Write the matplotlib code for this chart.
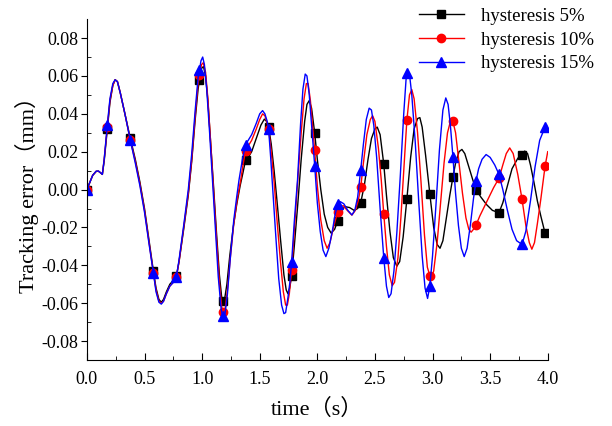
import numpy as np
import matplotlib
matplotlib.use("Agg")
import matplotlib.pyplot as plt

plt.rcParams['font.family'] = ['Liberation Serif', 'Noto Sans CJK SC']

# --- curve samples (time in s, error in mm) ---
t_5 = [0, 0.02, 0.05, 0.08, 0.10, 0.12, 0.134, 0.15, 0.177, 0.20, 0.225, 0.245,
       0.265, 0.29, 0.33, 0.377, 0.42, 0.46, 0.50, 0.54, 0.577, 0.60, 0.625, 0.646,
       0.665, 0.69, 0.72, 0.75, 0.777, 0.80, 0.84, 0.88, 0.91, 0.94, 0.965, 0.977,
       0.995, 1.012, 1.03, 1.05, 1.075, 1.10, 1.125, 1.15, 1.17, 1.182, 1.195, 1.215,
       1.24, 1.27, 1.30, 1.33, 1.355, 1.377, 1.40, 1.43, 1.47, 1.51, 1.54, 1.56,
       1.577, 1.60, 1.625, 1.65, 1.68, 1.71, 1.73, 1.745, 1.76, 1.777, 1.80, 1.83,
       1.86, 1.89, 1.91, 1.93, 1.95, 1.977, 2.00, 2.03, 2.06, 2.09, 2.12, 2.15,
       2.177, 2.21, 2.24, 2.28, 2.32, 2.35, 2.377, 2.41, 2.44, 2.47, 2.50, 2.52,
       2.545, 2.577, 2.60, 2.63, 2.66, 2.69, 2.715, 2.745, 2.777, 2.81, 2.84, 2.87,
       2.89, 2.91, 2.94, 2.977, 3.01, 3.04, 3.065, 3.09, 3.12, 3.15, 3.177, 3.20,
       3.23, 3.255, 3.28, 3.32, 3.35, 3.377, 3.42, 3.47, 3.52, 3.577, 3.61, 3.65,
       3.69, 3.74, 3.777, 3.80, 3.825, 3.85, 3.88, 3.91, 3.94, 3.977]
y_5 = [0, 0.003, 0.0075, 0.0096, 0.0097, 0.0088, 0.008, 0.015, 0.032, 0.046, 0.055, 0.058,
       0.057, 0.051, 0.040, 0.027, 0.016, 0.004, -0.010, -0.027, -0.043, -0.052, -0.058, -0.0595,
       -0.058, -0.054, -0.050, -0.048, -0.0456, -0.038, -0.021, -0.003, 0.015, 0.037, 0.053, 0.058,
       0.064, 0.065, 0.060, 0.047, 0.024, 0.001, -0.023, -0.045, -0.057, -0.0595, -0.058, -0.050,
       -0.035, -0.020, -0.008, 0.002, 0.009, 0.0155, 0.017, 0.020, 0.027, 0.034, 0.0372, 0.036,
       0.0331, 0.024, 0.010, -0.006, -0.026, -0.045, -0.053, -0.055, -0.052, -0.0456, -0.030, -0.008,
       0.016, 0.036, 0.045, 0.047, 0.043, 0.030, 0.016, 0.000, -0.013, -0.020, -0.023, -0.021,
       -0.0166, -0.011, -0.009, -0.0095, -0.011, -0.010, -0.0069, 0.003, 0.016, 0.027, 0.032, 0.033,
       0.029, 0.0133, -0.003, -0.022, -0.036, -0.0405, -0.038, -0.025, -0.0052, 0.017, 0.032, 0.0375,
       0.038, 0.033, 0.018, -0.0025, -0.020, -0.029, -0.031, -0.027, -0.015, -0.003, 0.0066, 0.014,
       0.020, 0.0212, 0.019, 0.011, 0.005, 0.0, -0.004, -0.008, -0.011, -0.0122, -0.007, 0.002,
       0.011, 0.0165, 0.019, 0.0203, 0.019, 0.013, 0.004, -0.006, -0.014, -0.0231]

t_10 = [0, 0.02, 0.05, 0.08, 0.10, 0.12, 0.134, 0.15, 0.177, 0.20, 0.225, 0.245,
        0.265, 0.29, 0.33, 0.377, 0.42, 0.46, 0.50, 0.54, 0.577, 0.60, 0.625, 0.646,
        0.665, 0.69, 0.72, 0.75, 0.777, 0.80, 0.84, 0.88, 0.91, 0.94, 0.965, 0.977,
        0.995, 1.01, 1.03, 1.05, 1.075, 1.10, 1.125, 1.15, 1.17, 1.185, 1.20, 1.22,
        1.245, 1.275, 1.305, 1.335, 1.355, 1.377, 1.40, 1.43, 1.47, 1.50, 1.525, 1.545,
        1.565, 1.577, 1.60, 1.625, 1.65, 1.68, 1.705, 1.725, 1.74, 1.757, 1.777, 1.80,
        1.83, 1.86, 1.885, 1.905, 1.92, 1.94, 1.96, 1.977, 2.00, 2.03, 2.06, 2.085,
        2.11, 2.14, 2.177, 2.20, 2.225, 2.26, 2.30, 2.33, 2.355, 2.377, 2.40, 2.43,
        2.46, 2.48, 2.50, 2.53, 2.555, 2.577, 2.60, 2.625, 2.65, 2.67, 2.70, 2.725,
        2.75, 2.777, 2.80, 2.82, 2.84, 2.87, 2.90, 2.93, 2.955, 2.977, 2.99, 3.01,
        3.04, 3.07, 3.10, 3.13, 3.155, 3.177, 3.20, 3.23, 3.26, 3.29, 3.315, 3.335,
        3.355, 3.377, 3.41, 3.45, 3.49, 3.53, 3.577, 3.61, 3.64, 3.67, 3.70, 3.74,
        3.777, 3.81, 3.84, 3.862, 3.885, 3.91, 3.94, 3.977, 4.0]
y_10 = [0, 0.003, 0.0075, 0.0096, 0.0097, 0.0088, 0.008, 0.016, 0.033, 0.047, 0.055, 0.058,
        0.057, 0.051, 0.040, 0.026, 0.015, 0.003, -0.011, -0.028, -0.044, -0.053, -0.059, -0.060,
        -0.059, -0.055, -0.051, -0.049, -0.046, -0.038, -0.020, -0.002, 0.016, 0.039, 0.056, 0.0607,
        0.066, 0.067, 0.062, 0.048, 0.024, -0.001, -0.026, -0.049, -0.062, -0.0655, -0.063, -0.053,
        -0.036, -0.018, -0.005, 0.005, 0.013, 0.0206, 0.023, 0.026, 0.032, 0.037, 0.040, 0.039,
        0.035, 0.032, 0.020, 0.004, -0.016, -0.038, -0.054, -0.061, -0.061, -0.055, -0.0424, -0.022,
        0.005, 0.030, 0.048, 0.056, 0.056, 0.047, 0.033, 0.0207, 0.002, -0.016, -0.027, -0.031,
        -0.028, -0.020, -0.0117, -0.009, -0.0085, -0.011, -0.0135, -0.011, -0.006, 0.0013, 0.014, 0.029,
        0.037, 0.039, 0.036, 0.022, 0.005, -0.0131, -0.030, -0.045, -0.0508, -0.049, -0.036, -0.015,
        0.010, 0.0365, 0.050, 0.0528, 0.048, 0.030, 0.004, -0.024, -0.041, -0.0456, -0.0465, -0.043,
        -0.028, -0.007, 0.014, 0.030, 0.036, 0.036, 0.030, 0.014, -0.002, -0.015, -0.021, -0.0225,
        -0.021, -0.0189, -0.014, -0.009, -0.004, 0.001, 0.006, 0.013, 0.019, 0.022, 0.019, 0.008,
        -0.0052, -0.019, -0.028, -0.0315, -0.028, -0.018, -0.005, 0.0124, 0.020]

t_15 = [0, 0.02, 0.05, 0.08, 0.10, 0.12, 0.134, 0.15, 0.177, 0.20, 0.225, 0.245,
        0.265, 0.29, 0.33, 0.377, 0.42, 0.46, 0.50, 0.54, 0.577, 0.60, 0.625, 0.646,
        0.665, 0.69, 0.72, 0.75, 0.777, 0.80, 0.84, 0.88, 0.91, 0.94, 0.965, 0.977,
        0.99, 1.005, 1.02, 1.04, 1.065, 1.09, 1.115, 1.14, 1.165, 1.177, 1.188, 1.20,
        1.22, 1.245, 1.275, 1.30, 1.32, 1.35, 1.377, 1.40, 1.43, 1.47, 1.50, 1.525,
        1.545, 1.565, 1.577, 1.595, 1.616, 1.64, 1.665, 1.69, 1.71, 1.725, 1.745, 1.762,
        1.777, 1.80, 1.828, 1.855, 1.875, 1.895, 1.91, 1.93, 1.955, 1.977, 2.00, 2.025,
        2.05, 2.074, 2.10, 2.13, 2.155, 2.177, 2.20, 2.23, 2.265, 2.30, 2.325, 2.35,
        2.377, 2.40, 2.425, 2.45, 2.47, 2.49, 2.515, 2.545, 2.577, 2.60, 2.62, 2.64,
        2.665, 2.69, 2.72, 2.75, 2.77, 2.785, 2.80, 2.82, 2.85, 2.88, 2.91, 2.935,
        2.957, 2.977, 3.00, 3.03, 3.06, 3.09, 3.115, 3.135, 3.155, 3.177, 3.20, 3.225,
        3.25, 3.275, 3.30, 3.33, 3.355, 3.377, 3.40, 3.43, 3.465, 3.50, 3.54, 3.577,
        3.61, 3.65, 3.69, 3.73, 3.777, 3.81, 3.85, 3.89, 3.93, 3.977, 3.99]
y_15 = [0, 0.003, 0.0075, 0.0097, 0.0098, 0.0088, 0.008, 0.016, 0.034, 0.048, 0.056, 0.058,
        0.057, 0.051, 0.040, 0.026, 0.014, 0.002, -0.012, -0.029, -0.044, -0.054, -0.0595, -0.0605,
        -0.059, -0.055, -0.051, -0.049, -0.046, -0.037, -0.019, 0.000, 0.019, 0.042, 0.059, 0.063,
        0.068, 0.070, 0.066, 0.053, 0.030, 0.005, -0.021, -0.046, -0.063, -0.0666, -0.0675, -0.065,
        -0.055, -0.036, -0.016, -0.004, 0.005, 0.016, 0.0238, 0.026, 0.029, 0.035, 0.040, 0.0417,
        0.040, 0.036, 0.032, 0.017, -0.003, -0.025, -0.047, -0.061, -0.0655, -0.065, -0.057, -0.049,
        -0.0382, -0.017, 0.005, 0.035, 0.053, 0.061, 0.060, 0.050, 0.030, 0.0127, -0.007, -0.022,
        -0.032, -0.0354, -0.031, -0.022, -0.013, -0.0078, -0.0064, -0.0075, -0.011, -0.0134, -0.011, -0.004,
        0.0106, 0.024, 0.037, 0.043, 0.042, 0.034, 0.017, -0.010, -0.0362, -0.051, -0.057, -0.055,
        -0.043, -0.023, 0.007, 0.040, 0.058, 0.0624, 0.061, 0.050, 0.025, -0.006, -0.035, -0.052,
        -0.0575, -0.0508, -0.035, -0.008, 0.021, 0.042, 0.0484, 0.045, 0.034, 0.0173, -0.002, -0.019,
        -0.031, -0.0354, -0.031, -0.018, -0.005, 0.0045, 0.011, 0.016, 0.0185, 0.017, 0.013, 0.008,
        0.000, -0.011, -0.021, -0.027, -0.029, -0.022, -0.006, 0.012, 0.026, 0.0331, 0.034]

# marker positions (every 0.2 s) and values
t_mark = [0, 0.177, 0.377, 0.577, 0.777, 0.977, 1.177, 1.377, 1.577, 1.777, 1.977,
          2.177, 2.377, 2.577, 2.777, 2.977, 3.177, 3.377, 3.577, 3.777, 3.977]
m_5 = [0, 0.032, 0.027, -0.043, -0.0456, 0.058, -0.059, 0.0155, 0.0331, -0.0456, 0.030,
       -0.0166, -0.0069, 0.0133, -0.0052, -0.0025, 0.0066, 0.0, -0.0122, 0.018, -0.0231]
m_10 = [0, 0.033, 0.026, -0.044, -0.046, 0.0607, -0.0645, 0.0206, 0.032, -0.0424, 0.0207,
        -0.0117, 0.0013, -0.0131, 0.0365, -0.0456, 0.036, -0.0189, 0.006, -0.0052, 0.0124]
m_15 = [0, 0.034, 0.026, -0.044, -0.046, 0.063, -0.0666, 0.0238, 0.032, -0.0382, 0.0127,
        -0.0078, 0.0106, -0.0362, 0.0616, -0.0508, 0.0173, 0.0045, 0.008, -0.029, 0.0331]

labels = ['hysteresis 5%', 'hysteresis 10%', 'hysteresis 15%']
colors = ['black', 'red', 'blue']
markers = ['s', 'o', '^']
msizes = [6, 6, 6.5]

fig = plt.figure(figsize=(6.12, 4.26), dpi=100)
ax = fig.add_axes([0.142, 0.155, 0.753, 0.80])

series = [(t_5, y_5, m_5), (t_10, y_10, m_10), (t_15, y_15, m_15)]
handles = []
for (t, y, m), c, mk, ms, lab in zip(series, colors, markers, msizes, labels):
    ax.plot(t, y, color=c, lw=1.0)
    ax.plot(t_mark, m, ls='none', marker=mk, color=c, ms=ms)
    h, = ax.plot([], [], color=c, lw=1.0, marker=mk, ms=ms, label=lab)
    handles.append(h)

xt = np.arange(0, 4.01, 0.5)
yt = np.arange(-0.08, 0.081, 0.02)
ax.set_xlim(0, 4.0)
ax.set_ylim(-0.09, 0.09)
ax.set_xticks(xt)
ax.set_xticks(np.arange(0.25, 4.0, 0.5), minor=True)
ax.set_yticks(yt)
ax.set_yticks(np.arange(-0.07, 0.09, 0.02), minor=True)
ax.set_xticklabels([f'{v:.1f}' for v in xt])
ax.set_yticklabels([f'{abs(v):.2f}' if abs(v) < 1e-9 else f'{v:.2f}' for v in yt])
ax.tick_params(axis='x', which='major', direction='in', length=5, labelsize=13, pad=8)
ax.tick_params(axis='x', which='minor', direction='in', length=3)
ax.tick_params(axis='y', which='major', direction='out', length=4, labelsize=13, pad=2)
ax.tick_params(axis='y', which='minor', direction='in', length=3)
ax.spines['top'].set_visible(False)
ax.spines['right'].set_visible(False)

ax.set_xlabel('time（s）', fontsize=16, labelpad=8)
ax.set_ylabel('Tracking error（mm）', fontsize=16, labelpad=2)

fig.legend(handles=handles, loc='upper left', bbox_to_anchor=(0.657, 1.022),
           frameon=False, fontsize=13.5, handlelength=2.4, handletextpad=0.9,
           labelspacing=0.36)

fig.savefig('out.png', dpi=100)
